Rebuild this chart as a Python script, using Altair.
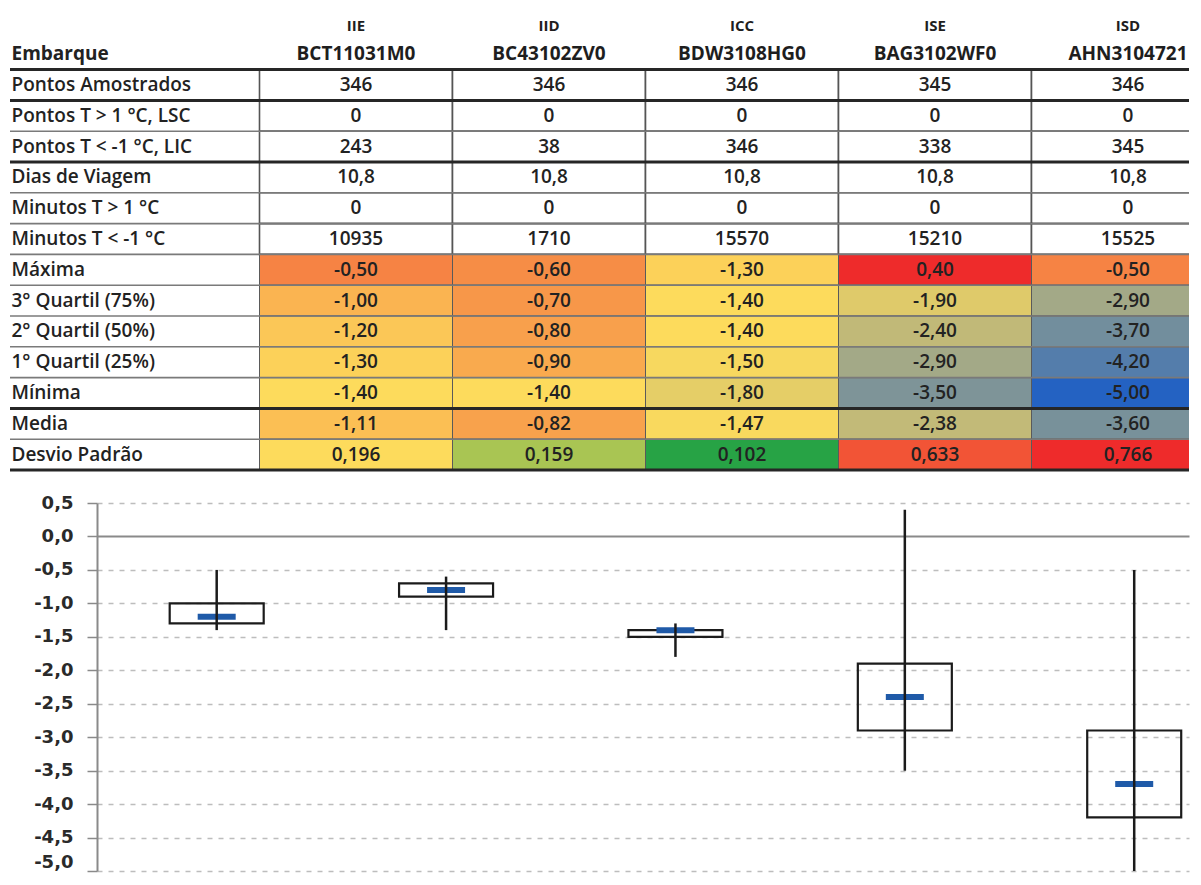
import altair as alt
import numpy as np
import pandas as pd

# ---------------- data ----------------
grupos = ["IIE", "IID", "ICC", "ISE", "ISD"]
embarques = ["BCT11031M0", "BC43102ZV0", "BDW3108HG0", "BAG3102WF0", "AHN3104721"]

pontos_amostrados = [346, 346, 346, 345, 346]
pontos_acima_lsc = [0, 0, 0, 0, 0]
pontos_abaixo_lic = [243, 38, 346, 338, 345]
dias_viagem = [10.8, 10.8, 10.8, 10.8, 10.8]
minutos_acima = [0, 0, 0, 0, 0]
minutos_abaixo = [10935, 1710, 15570, 15210, 15525]
maxima = [-0.50, -0.60, -1.30, 0.40, -0.50]
quartil3 = [-1.00, -0.70, -1.40, -1.90, -2.90]
quartil2 = [-1.20, -0.80, -1.40, -2.40, -3.70]
quartil1 = [-1.30, -0.90, -1.50, -2.90, -4.20]
minima = [-1.40, -1.40, -1.80, -3.50, -5.00]
media = [-1.11, -0.82, -1.47, -2.38, -3.60]
desvio = [0.196, 0.159, 0.102, 0.633, 0.766]

body = [
    ("Pontos Amostrados", pontos_amostrados, 0, "plain"),
    ("Pontos T > 1 °C, LSC", pontos_acima_lsc, 0, "plain"),
    ("Pontos T < -1 °C, LIC", pontos_abaixo_lic, 0, "plain"),
    ("Dias de Viagem", dias_viagem, 1, "plain"),
    ("Minutos  T > 1 °C", minutos_acima, 0, "plain"),
    ("Minutos  T < -1 °C", minutos_abaixo, 0, "plain"),
    ("Máxima", maxima, 2, "temp"),
    ("3° Quartil (75%)", quartil3, 2, "temp"),
    ("2° Quartil (50%)", quartil2, 2, "temp"),
    ("1° Quartil (25%)", quartil1, 2, "temp"),
    ("Mínima", minima, 2, "temp"),
    ("Media", media, 2, "temp"),
    ("Desvio Padrão", desvio, 3, "sd"),
]
thick_below = {"Embarque", "Pontos Amostrados", "Pontos T < -1 °C, LIC", "Mínima", "Desvio Padrão"}


def fmt(v, d):
    return f"{v:.{d}f}".replace(".", ",")


rows = ["Grupo", "Embarque"] + [b[0] for b in body]

cell_recs = []
for label, vals, dec, kind in body:
    for i, v in enumerate(vals):
        cell_recs.append({"row": label, "col": i, "text": fmt(v, dec), "value": float(v), "kind": kind})
cells_df = pd.DataFrame(cell_recs)

head_df = pd.DataFrame(
    [{"row": "Grupo", "col": i, "text": g} for i, g in enumerate(grupos)]
    + [{"row": "Embarque", "col": i, "text": e} for i, e in enumerate(embarques)]
)
rule_df = pd.DataFrame(
    [{"row": r, "thick": r in thick_below} for r in rows[1:]]
)

temp_vals = maxima + quartil3 + quartil2 + quartil1 + minima + media
temp_domain = [min(temp_vals), float(np.median(temp_vals)), max(temp_vals)]
sd_domain = [min(desvio), float(np.median(desvio)), max(desvio)]

# ---------------- shared layout ----------------
PLOT_W = 1092          # both panels share the same plot origin and width
LEFT_EXT = 87          # room left of the plot origin (table label column / y axis)

# ---------------- table ----------------
ROW_STEP = 30.8
TAB_H = ROW_STEP * len(rows)
COL_W = 193.0
FIRST_COL_EDGE = 162.5  # px from plot origin to first data column
x_start = -0.5 - FIRST_COL_EDGE / COL_W
X_TAB = alt.Scale(domain=[x_start, x_start + PLOT_W / COL_W], nice=False, zero=False)
Y_TAB = alt.Scale(type="band", domain=rows, paddingInner=0, paddingOuter=0)

y_axis_tab = alt.Axis(
    title=None, orient="left", domain=False, ticks=False, tickSize=0, grid=False,
    labelAlign="left", labelBaseline="middle", labelPadding=LEFT_EXT - 1, labelLimit=0,
    labelFont="Open Sans", labelFontSize=19, labelColor="#222222",
    labelFontWeight={"condition": {"test": "datum.value == 'Embarque'", "value": "bold"}, "value": 600},
    labelExpr="datum.value == 'Grupo' ? '' : datum.value",
)


def ty(**kw):
    return alt.Y("row:N", scale=Y_TAB, axis=y_axis_tab, **kw)


cells = alt.Chart(cells_df).transform_calculate(
    x0="datum.col - 0.5", x1="datum.col + 0.5"
)

plain_rect = cells.transform_filter("datum.kind == 'plain'").mark_rect(
    fill="white", stroke="#555555", strokeWidth=1.6, clip=True
).encode(x=alt.X("x0:Q", scale=X_TAB, axis=None), x2="x1:Q", y=ty())

temp_rect = cells.transform_filter("datum.kind == 'temp'").mark_rect(
    stroke="#5a5a5a", strokeWidth=1, clip=True
).encode(
    x=alt.X("x0:Q", scale=X_TAB, axis=None), x2="x1:Q", y=ty(),
    color=alt.Color("value:Q", legend=None, scale=alt.Scale(
        domain=temp_domain, range=["#2462c2", "#fddb5c", "#ee2b2b"], interpolate="rgb")),
)

sd_rect = cells.transform_filter("datum.kind == 'sd'").mark_rect(
    stroke="#5a5a5a", strokeWidth=1, clip=True
).encode(
    x=alt.X("x0:Q", scale=X_TAB, axis=None), x2="x1:Q", y=ty(),
    fill=alt.Fill("value:Q", legend=None, scale=alt.Scale(
        domain=sd_domain, range=["#27a345", "#fddb5c", "#ee2b2b"], interpolate="rgb")),
)

thin_rules = alt.Chart(rule_df).transform_filter("!datum.thick").mark_rule(
    color="#7a7a7a", strokeWidth=1.6
).encode(y=ty(bandPosition=1), x=alt.value(-LEFT_EXT), x2=alt.value(PLOT_W))

thick_rules = alt.Chart(rule_df).transform_filter("datum.thick").mark_rule(
    color="#262626", strokeWidth=3
).encode(y=ty(bandPosition=1), x=alt.value(-LEFT_EXT), x2=alt.value(PLOT_W))

cell_text = cells.mark_text(
    font="Open Sans", fontSize=19, fontWeight=600, color="#222222"
).encode(x=alt.X("col:Q", scale=X_TAB, axis=None), y=ty(), text="text:N")

head_group = alt.Chart(head_df).transform_filter("datum.row == 'Grupo'").mark_text(
    font="Open Sans", fontSize=15, fontWeight="bold", color="#1e1e1e", dy=3
).encode(x=alt.X("col:Q", scale=X_TAB, axis=None), y=ty(), text="text:N")

head_code = alt.Chart(head_df).transform_filter("datum.row == 'Embarque'").mark_text(
    font="Open Sans", fontSize=19, fontWeight="bold", color="#1e1e1e"
).encode(x=alt.X("col:Q", scale=X_TAB, axis=None), y=ty(), text="text:N")

table = alt.layer(
    plain_rect, temp_rect, sd_rect, thin_rules, thick_rules, cell_text, head_group, head_code
).resolve_scale(color="independent", fill="independent").properties(width=PLOT_W, height=TAB_H)

# ---------------- box chart ----------------
box_df = pd.DataFrame({
    "grupo": grupos, "idx": list(range(len(grupos))),
    "max": maxima, "q3": quartil3, "q2": quartil2, "q1": quartil1, "min": minima,
})

BOX_H = 368
STEP = 231.5
X_BOX = alt.Scale(domain=[-0.5, -0.5 + PLOT_W / STEP], nice=False, zero=False)
Y_BOX = alt.Scale(domain=[-5, 0.5], nice=False, zero=False)
y_vals = [round(-5 + 0.5 * k, 1) for k in range(12)]

y_axis_box = alt.Axis(
    values=y_vals, title=None, minExtent=LEFT_EXT,
    labelExpr="replace(replace(format(datum.value, '.1f'), '.', ','), '\u2212', '-')",
    labelFont="DejaVu Sans", labelFontWeight="bold", labelFontSize=18, labelColor="#2a2a2a",
    labelPadding=14,
    labelBaseline={"condition": {"test": "datum.value == -5", "value": "bottom"}, "value": "middle"},
    tickSize=10, tickColor="#8a8a8a", tickWidth=1.5,
    domainColor="#8a8a8a", domainWidth=2,
    grid=True,
    gridColor={"condition": {"test": "datum.value == 0", "value": "#8a8a8a"}, "value": "#bdbdbd"},
    gridDash={"condition": {"test": "datum.value == 0", "value": []}, "value": [5, 6]},
    gridWidth={"condition": {"test": "datum.value == 0", "value": 2}, "value": 1.4},
)

bx = alt.X("idx:Q", scale=X_BOX, axis=None)
base = alt.Chart(box_df)

box = base.mark_bar(size=94, fill="transparent", stroke="#1b1b1b", strokeWidth=2.2).encode(
    x=bx, y=alt.Y("q3:Q", scale=Y_BOX, axis=y_axis_box), y2="q1:Q"
)
median = base.mark_tick(orient="horizontal", size=38, thickness=6, color="#1f5aa8", opacity=1).encode(
    x=bx, y=alt.Y("q2:Q", scale=Y_BOX, axis=y_axis_box)
)
whisker = base.mark_rule(color="#1b1b1b", strokeWidth=2.5).encode(
    x=bx, y=alt.Y("min:Q", scale=Y_BOX, axis=y_axis_box), y2="max:Q"
)

boxchart = alt.layer(box, median, whisker).properties(width=PLOT_W, height=BOX_H)

chart = alt.vconcat(table, boxchart, spacing=22).properties(
    padding=0, background="white"
).configure_view(stroke=None)

chart.save("out.html", embed_options={"renderer": "svg", "actions": False})
